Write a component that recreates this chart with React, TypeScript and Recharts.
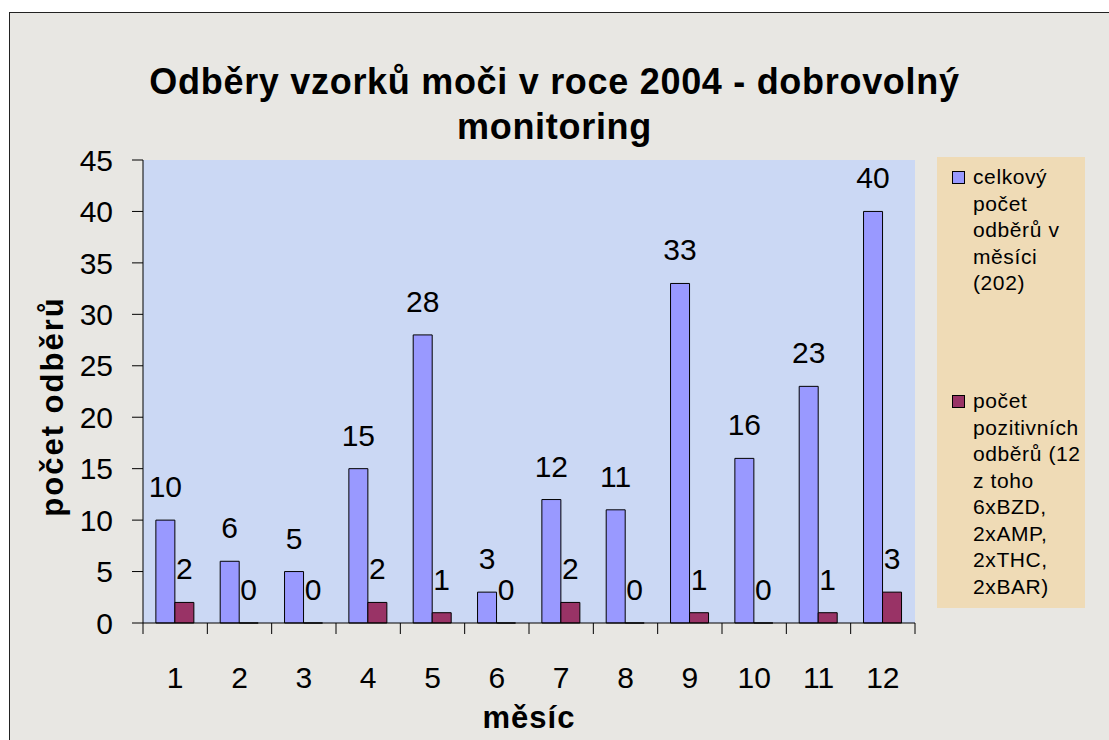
import React from 'react'
import { BarChart, Bar, XAxis, YAxis, CartesianGrid, LabelList, Label } from 'recharts'

const months = ['1', '2', '3', '4', '5', '6', '7', '8', '9', '10', '11', '12']
const totalSamples = [10, 6, 5, 15, 28, 3, 12, 11, 33, 16, 23, 40]
const positiveSamples = [2, 0, 0, 2, 1, 0, 2, 0, 1, 0, 1, 3]
const yTicks = [0, 5, 10, 15, 20, 25, 30, 35, 40, 45]

const titleLines = ['Odběry vzorků moči v roce 2004 - dobrovolný', 'monitoring']
const xTitle = 'měsíc'
const yTitle = 'počet odběrů'
const totalLegend = ['celkový', 'počet', 'odběrů v', 'měsíci', '(202)']
const positiveLegend = ['počet', 'pozitivních', 'odběrů (12', 'z toho', '6xBZD,', '2xAMP,', '2xTHC,', '2xBAR)']

const data = months.map((m, i) => ({
  month: m,
  total: totalSamples[i],
  positive: positiveSamples[i],
}))

const FONT = 'Arial, "Liberation Sans", sans-serif'
const BLUE = '#9999ff'
const PLUM = '#993366'

function MonthTick(props: any) {
  const { x, y, payload, index } = props
  const half = payload.offset || 0
  return (
    <g>
      <line x1={x - half} x2={x - half} y1={y - 11} y2={y} stroke="#000" />
      {index === months.length - 1 && (
        <line x1={x + half} x2={x + half} y1={y - 11} y2={y} stroke="#000" />
      )}
      <text x={x} y={y + 54} textAnchor="middle" fontSize={30} fontFamily={FONT} fill="#000">
        {payload.value}
      </text>
    </g>
  )
}

// value labels, drawn also for zero-height bars
function ValueLabel(props: any) {
  const { x, y, width, height, value } = props
  const top = Math.min(y, y + (height || 0))
  return (
    <text
      x={x + width / 2}
      y={top - 23}
      textAnchor="middle"
      fontSize={30}
      fontFamily={FONT}
      fill="#000"
    >
      {value}
    </text>
  )
}

function YTitle(props: any) {
  const { viewBox } = props
  const cx = 52
  const cy = viewBox.y + viewBox.height / 2 + 15
  return (
    <text
      x={cx}
      y={cy}
      transform={`rotate(-90, ${cx}, ${cy})`}
      textAnchor="middle"
      dominantBaseline="central"
      fontSize={31}
      fontWeight="bold"
      fontFamily={FONT}
      letterSpacing={2}
      fill="#000"
    >
      {yTitle}
    </text>
  )
}

function LegendBox() {
  const item = (lines: string[], color: string, top: number) => (
    <div style={{ position: 'absolute', left: 15, top, display: 'flex' }}>
      <div
        style={{
          width: 11,
          height: 11,
          background: color,
          border: '1px solid #000',
          marginTop: 7,
          marginRight: 8,
        }}
      />
      <div style={{ fontSize: 21, lineHeight: '26.5px', letterSpacing: 0.6 }}>
        {lines.map((l) => (
          <div key={l}>{l}</div>
        ))}
      </div>
    </div>
  )
  return (
    <div
      style={{
        position: 'absolute',
        left: 937,
        top: 157,
        width: 148,
        height: 451,
        background: '#efdbb6',
        fontFamily: FONT,
        color: '#000',
      }}
    >
      {item(totalLegend, BLUE, 7)}
      {item(positiveLegend, PLUM, 231)}
    </div>
  )
}

export default function App() {
  return (
    <div
      style={{
        position: 'absolute',
        left: 0,
        top: 0,
        width: 1109,
        height: 740,
        background: '#fff',
        overflow: 'hidden',
      }}
    >
      <div
        style={{
          position: 'absolute',
          left: 9,
          top: 12,
          width: 1200,
          height: 800,
          background: '#e8e7e3',
          borderTop: '1.5px solid #222',
          borderLeft: '1.5px solid #222',
        }}
      />
      <div
        style={{
          position: 'absolute',
          left: 0,
          top: 59,
          width: 1109,
          textAlign: 'center',
          fontFamily: FONT,
          fontWeight: 'bold',
          fontSize: 36,
          lineHeight: '45px',
          letterSpacing: 0.7,
          color: '#000',
        }}
      >
        {titleLines.map((t) => (
          <div key={t}>{t}</div>
        ))}
      </div>
      <div style={{ position: 'absolute', left: 0, top: 0 }}>
        <BarChart
          width={1109}
          height={740}
          data={data}
          margin={{ top: 160, right: 194, bottom: 37, left: 0 }}
          barCategoryGap="20%"
          barGap={0}
        >
          <CartesianGrid fill="#cbd8f4" horizontal={false} vertical={false} />
          <XAxis
            dataKey="month"
            height={80}
            axisLine={{ stroke: '#000' }}
            tickLine={false}
            tickSize={11}
            tickMargin={0}
            tick={<MonthTick />}
            interval={0}
            label={{
              value: xTitle,
              position: 'insideBottom',
              offset: 0,
              dy: 25,
              fontSize: 31,
              fontWeight: 'bold',
              fontFamily: FONT,
              fill: '#000',
              letterSpacing: 1,
            }}
          />
          <XAxis
            xAxisId="top"
            dataKey="month"
            orientation="top"
            height={0}
            tick={false}
            tickLine={false}
            axisLine={{ stroke: '#333' }}
          />
          <YAxis
            domain={[0, 45]}
            ticks={yTicks}
            width={143}
            interval={0}
            axisLine={{ stroke: '#000' }}
            tickLine={{ stroke: '#000' }}
            tickSize={11}
            tickMargin={19}
            tick={{ fontSize: 30, fontFamily: FONT, fill: '#000' }}
          >
            <Label content={<YTitle />} />
          </YAxis>
          <YAxis
            yAxisId="right"
            orientation="right"
            width={0}
            domain={[0, 45]}
            tick={false}
            tickLine={false}
            axisLine={{ stroke: '#333' }}
          />
          <Bar
            dataKey="total"
            fill={BLUE}
            stroke="#000"
            strokeWidth={1}
            minPointSize={0.01}
            isAnimationActive={false}
          >
            <LabelList dataKey="total" content={<ValueLabel />} />
          </Bar>
          <Bar
            dataKey="positive"
            fill={PLUM}
            stroke="#000"
            strokeWidth={1}
            minPointSize={0.01}
            isAnimationActive={false}
          >
            <LabelList dataKey="positive" content={<ValueLabel />} />
          </Bar>
        </BarChart>
      </div>
      <LegendBox />
    </div>
  )
}
